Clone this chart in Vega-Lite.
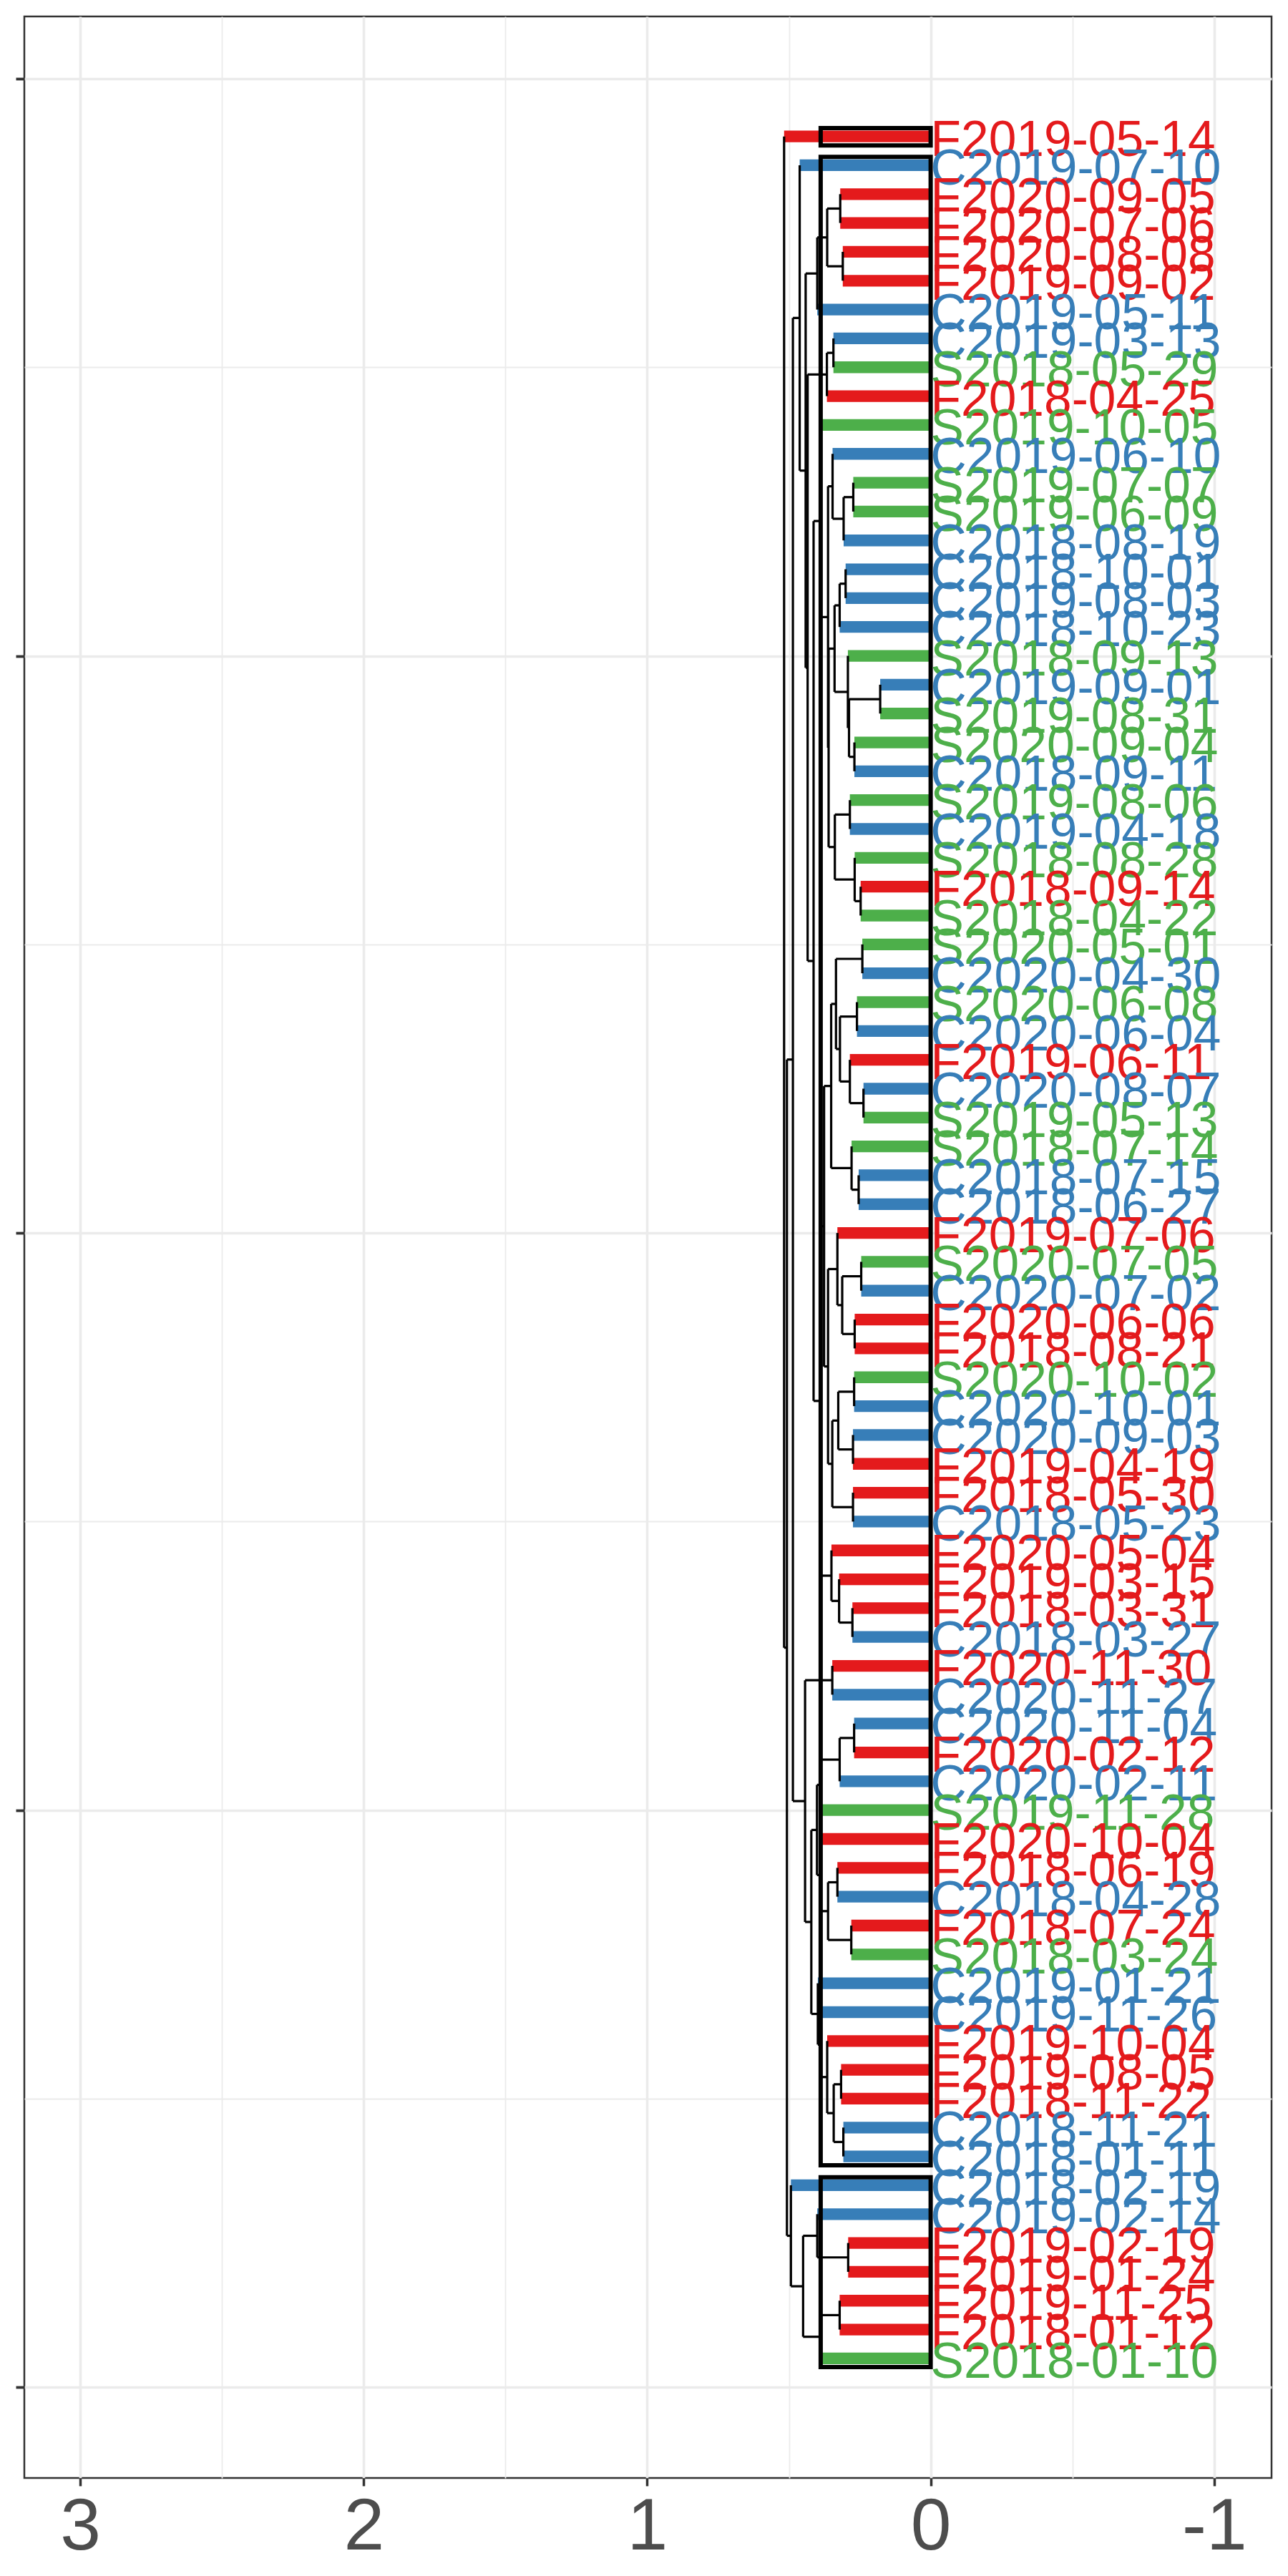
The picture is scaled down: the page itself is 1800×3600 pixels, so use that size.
{
  "$schema": "https://vega.github.io/schema/vega-lite/v6.json",
  "width": 1743,
  "height": 3440,
  "autosize": {"type": "none"},
  "padding": {"left": 34, "top": 23, "right": 23, "bottom": 137},
  "background": "white",
  "config": {"view": {"stroke": "#333333", "strokeWidth": 2.5}, "font": "Liberation Sans"},
  "datasets": {
    "leaves": [
      {"v":78,"label":"F2019-05-14","g":"F","h0":0,"h":0.517},
      {"v":77,"label":"C2019-07-10","g":"C","h0":0,"h":0.462},
      {"v":76,"label":"F2020-09-05","g":"F","h0":0,"h":0.319},
      {"v":75,"label":"F2020-07-06","g":"F","h0":0,"h":0.319},
      {"v":74,"label":"F2020-08-08","g":"F","h0":0,"h":0.310},
      {"v":73,"label":"F2019-09-02","g":"F","h0":0,"h":0.310},
      {"v":72,"label":"C2019-05-11","g":"C","h0":0,"h":0.400},
      {"v":71,"label":"C2019-03-13","g":"C","h0":0,"h":0.343},
      {"v":70,"label":"S2018-05-29","g":"S","h0":0,"h":0.343},
      {"v":69,"label":"F2018-04-25","g":"F","h0":0,"h":0.366},
      {"v":68,"label":"S2019-10-05","g":"S","h0":0,"h":0.390},
      {"v":67,"label":"C2019-06-10","g":"C","h0":0,"h":0.346},
      {"v":66,"label":"S2019-07-07","g":"S","h0":0,"h":0.273},
      {"v":65,"label":"S2019-06-09","g":"S","h0":0,"h":0.273},
      {"v":64,"label":"C2018-08-19","g":"C","h0":0,"h":0.307},
      {"v":63,"label":"C2018-10-01","g":"C","h0":0,"h":0.300},
      {"v":62,"label":"C2019-08-03","g":"C","h0":0,"h":0.300},
      {"v":61,"label":"C2018-10-23","g":"C","h0":0,"h":0.321},
      {"v":60,"label":"S2018-09-13","g":"S","h0":0,"h":0.292},
      {"v":59,"label":"C2019-09-01","g":"C","h0":0,"h":0.178},
      {"v":58,"label":"S2019-08-31","g":"S","h0":0,"h":0.178},
      {"v":57,"label":"S2020-09-04","g":"S","h0":0,"h":0.269},
      {"v":56,"label":"C2018-09-11","g":"C","h0":0,"h":0.269},
      {"v":55,"label":"S2019-08-06","g":"S","h0":0,"h":0.285},
      {"v":54,"label":"C2019-04-18","g":"C","h0":0,"h":0.285},
      {"v":53,"label":"S2018-08-28","g":"S","h0":0,"h":0.268},
      {"v":52,"label":"F2018-09-14","g":"F","h0":0,"h":0.247},
      {"v":51,"label":"S2018-04-22","g":"S","h0":0,"h":0.247},
      {"v":50,"label":"S2020-05-01","g":"S","h0":0,"h":0.241},
      {"v":49,"label":"C2020-04-30","g":"C","h0":0,"h":0.241},
      {"v":48,"label":"S2020-06-08","g":"S","h0":0,"h":0.260},
      {"v":47,"label":"C2020-06-04","g":"C","h0":0,"h":0.260},
      {"v":46,"label":"F2019-06-11","g":"F","h0":0,"h":0.285},
      {"v":45,"label":"C2020-08-07","g":"C","h0":0,"h":0.237},
      {"v":44,"label":"S2019-05-13","g":"S","h0":0,"h":0.237},
      {"v":43,"label":"S2018-07-14","g":"S","h0":0,"h":0.279},
      {"v":42,"label":"C2018-07-15","g":"C","h0":0,"h":0.254},
      {"v":41,"label":"C2018-06-27","g":"C","h0":0,"h":0.254},
      {"v":40,"label":"F2019-07-06","g":"F","h0":0,"h":0.329},
      {"v":39,"label":"S2020-07-05","g":"S","h0":0,"h":0.245},
      {"v":38,"label":"C2020-07-02","g":"C","h0":0,"h":0.245},
      {"v":37,"label":"F2020-06-06","g":"F","h0":0,"h":0.268},
      {"v":36,"label":"F2018-08-21","g":"F","h0":0,"h":0.268},
      {"v":35,"label":"S2020-10-02","g":"S","h0":0,"h":0.270},
      {"v":34,"label":"C2020-10-01","g":"C","h0":0,"h":0.270},
      {"v":33,"label":"C2020-09-03","g":"C","h0":0,"h":0.274},
      {"v":32,"label":"F2019-04-19","g":"F","h0":0,"h":0.274},
      {"v":31,"label":"F2018-05-30","g":"F","h0":0,"h":0.274},
      {"v":30,"label":"C2018-05-23","g":"C","h0":0,"h":0.274},
      {"v":29,"label":"F2020-05-04","g":"F","h0":0,"h":0.350},
      {"v":28,"label":"F2019-03-15","g":"F","h0":0,"h":0.323},
      {"v":27,"label":"F2018-03-31","g":"F","h0":0,"h":0.276},
      {"v":26,"label":"C2018-03-27","g":"C","h0":0,"h":0.276},
      {"v":25,"label":"F2020-11-30","g":"F","h0":0,"h":0.347},
      {"v":24,"label":"C2020-11-27","g":"C","h0":0,"h":0.347},
      {"v":23,"label":"C2020-11-04","g":"C","h0":0,"h":0.270},
      {"v":22,"label":"F2020-02-12","g":"F","h0":0,"h":0.270},
      {"v":21,"label":"C2020-02-11","g":"C","h0":0,"h":0.321},
      {"v":20,"label":"S2019-11-28","g":"S","h0":0,"h":0.389},
      {"v":19,"label":"F2020-10-04","g":"F","h0":0,"h":0.390},
      {"v":18,"label":"F2018-06-19","g":"F","h0":0,"h":0.329},
      {"v":17,"label":"C2018-04-28","g":"C","h0":0,"h":0.329},
      {"v":16,"label":"F2018-07-24","g":"F","h0":0,"h":0.280},
      {"v":15,"label":"S2018-03-24","g":"S","h0":0,"h":0.280},
      {"v":14,"label":"C2019-01-21","g":"C","h0":0,"h":0.398},
      {"v":13,"label":"C2019-11-26","g":"C","h0":0,"h":0.388},
      {"v":12,"label":"F2019-10-04","g":"F","h0":0,"h":0.365},
      {"v":11,"label":"F2019-08-05","g":"F","h0":0,"h":0.316},
      {"v":10,"label":"F2018-11-22","g":"F","h0":0,"h":0.316},
      {"v":9,"label":"C2018-11-21","g":"C","h0":0,"h":0.308},
      {"v":8,"label":"C2018-01-11","g":"C","h0":0,"h":0.308},
      {"v":7,"label":"C2018-02-19","g":"C","h0":0,"h":0.493},
      {"v":6,"label":"C2019-02-14","g":"C","h0":0,"h":0.400},
      {"v":5,"label":"F2019-02-19","g":"F","h0":0,"h":0.291},
      {"v":4,"label":"F2019-01-24","g":"F","h0":0,"h":0.291},
      {"v":3,"label":"F2019-11-25","g":"F","h0":0,"h":0.321},
      {"v":2,"label":"F2018-01-12","g":"F","h0":0,"h":0.321},
      {"v":1,"label":"S2018-01-10","g":"S","h0":0,"h":0.386}
    ],
    "verticals": [
      {"h":0.517,"a":78,"b":25.63},{"h":0.507,"a":46.011,"b":5.25},{"h":0.486,"a":71.709,"b":20.313},
      {"h":0.462,"a":77,"b":66.419},{"h":0.441,"a":73.25,"b":59.588},{"h":0.400,"a":74.5,"b":72},
      {"h":0.365,"a":75.5,"b":73.5},{"h":0.319,"a":76,"b":75},{"h":0.310,"a":74,"b":73},
      {"h":0.434,"a":69.75,"b":49.426},{"h":0.366,"a":70.5,"b":69},{"h":0.343,"a":71,"b":70},
      {"h":0.413,"a":64.672,"b":34.18},{"h":0.390,"a":68,"b":61.344},{"h":0.362,"a":65.875,"b":56.813},
      {"h":0.346,"a":67,"b":64.75},{"h":0.307,"a":65.5,"b":64},{"h":0.273,"a":66,"b":65},
      {"h":0.360,"a":60.25,"b":53.375},{"h":0.339,"a":61.75,"b":58.75},{"h":0.321,"a":62.5,"b":61},
      {"h":0.300,"a":63,"b":62},{"h":0.292,"a":60,"b":57.5},{"h":0.288,"a":58.5,"b":56.5},
      {"h":0.178,"a":59,"b":58},{"h":0.269,"a":57,"b":56},{"h":0.338,"a":54.5,"b":52.25},
      {"h":0.285,"a":55,"b":54},{"h":0.268,"a":53,"b":51.5},{"h":0.247,"a":52,"b":51},
      {"h":0.391,"a":40.234,"b":28.125},{"h":0.376,"a":45.094,"b":35.375},{"h":0.351,"a":47.938,"b":42.25},
      {"h":0.334,"a":49.5,"b":46.375},{"h":0.241,"a":50,"b":49},{"h":0.320,"a":47.5,"b":45.25},
      {"h":0.260,"a":48,"b":47},{"h":0.285,"a":46,"b":44.5},{"h":0.237,"a":45,"b":44},
      {"h":0.279,"a":43,"b":41.5},{"h":0.254,"a":42,"b":41},{"h":0.362,"a":38.75,"b":32},
      {"h":0.329,"a":40,"b":37.5},{"h":0.312,"a":38.5,"b":36.5},{"h":0.245,"a":39,"b":38},
      {"h":0.268,"a":37,"b":36},{"h":0.347,"a":33.5,"b":30.5},{"h":0.326,"a":34.5,"b":32.5},
      {"h":0.270,"a":35,"b":34},{"h":0.274,"a":33,"b":32},{"h":0.274,"a":31,"b":30},
      {"h":0.350,"a":29,"b":27.25},{"h":0.323,"a":28,"b":26.5},{"h":0.276,"a":27,"b":26},
      {"h":0.443,"a":24.5,"b":16.125},{"h":0.347,"a":25,"b":24},{"h":0.421,"a":19.313,"b":12.938},
      {"h":0.401,"a":20.875,"b":17.75},{"h":0.389,"a":21.75,"b":20},{"h":0.321,"a":22.5,"b":21},
      {"h":0.270,"a":23,"b":22},{"h":0.390,"a":19,"b":16.5},{"h":0.362,"a":17.5,"b":15.5},
      {"h":0.329,"a":18,"b":17},{"h":0.280,"a":16,"b":15},{"h":0.398,"a":14,"b":11.875},
      {"h":0.388,"a":13,"b":10.75},{"h":0.365,"a":12,"b":9.5},{"h":0.342,"a":10.5,"b":8.5},
      {"h":0.316,"a":11,"b":10},{"h":0.308,"a":9,"b":8},{"h":0.493,"a":7,"b":3.5},
      {"h":0.450,"a":5.25,"b":1.75},{"h":0.400,"a":6,"b":4.5},{"h":0.291,"a":5,"b":4},
      {"h":0.386,"a":2.5,"b":1},{"h":0.321,"a":3,"b":2}
    ],
    "horizontals": [
      {"p":25.63,"h1":0.507,"h2":0.517},{"p":46.011,"h1":0.486,"h2":0.507},{"p":5.25,"h1":0.493,"h2":0.507},
      {"p":71.709,"h1":0.462,"h2":0.486},{"p":20.313,"h1":0.443,"h2":0.486},{"p":66.419,"h1":0.441,"h2":0.462},
      {"p":73.25,"h1":0.400,"h2":0.441},{"p":59.588,"h1":0.434,"h2":0.441},{"p":74.5,"h1":0.365,"h2":0.400},
      {"p":75.5,"h1":0.319,"h2":0.365},{"p":73.5,"h1":0.310,"h2":0.365},{"p":69.75,"h1":0.366,"h2":0.434},
      {"p":49.426,"h1":0.413,"h2":0.434},{"p":70.5,"h1":0.343,"h2":0.366},{"p":64.672,"h1":0.390,"h2":0.413},
      {"p":34.18,"h1":0.391,"h2":0.413},{"p":61.344,"h1":0.362,"h2":0.390},{"p":65.875,"h1":0.346,"h2":0.362},
      {"p":56.813,"h1":0.360,"h2":0.362},{"p":64.75,"h1":0.307,"h2":0.346},{"p":65.5,"h1":0.273,"h2":0.307},
      {"p":60.25,"h1":0.339,"h2":0.360},{"p":53.375,"h1":0.338,"h2":0.360},{"p":61.75,"h1":0.321,"h2":0.339},
      {"p":58.75,"h1":0.292,"h2":0.339},{"p":62.5,"h1":0.300,"h2":0.321},{"p":57.5,"h1":0.288,"h2":0.292},
      {"p":58.5,"h1":0.178,"h2":0.288},{"p":56.5,"h1":0.269,"h2":0.288},{"p":54.5,"h1":0.285,"h2":0.338},
      {"p":52.25,"h1":0.268,"h2":0.338},{"p":51.5,"h1":0.247,"h2":0.268},{"p":40.234,"h1":0.376,"h2":0.391},
      {"p":28.125,"h1":0.350,"h2":0.391},{"p":45.094,"h1":0.351,"h2":0.376},{"p":35.375,"h1":0.362,"h2":0.376},
      {"p":47.938,"h1":0.334,"h2":0.351},{"p":42.25,"h1":0.279,"h2":0.351},{"p":49.5,"h1":0.241,"h2":0.334},
      {"p":46.375,"h1":0.320,"h2":0.334},{"p":47.5,"h1":0.260,"h2":0.320},{"p":45.25,"h1":0.285,"h2":0.320},
      {"p":44.5,"h1":0.237,"h2":0.285},{"p":41.5,"h1":0.254,"h2":0.279},{"p":38.75,"h1":0.329,"h2":0.362},
      {"p":32,"h1":0.347,"h2":0.362},{"p":37.5,"h1":0.312,"h2":0.329},{"p":38.5,"h1":0.245,"h2":0.312},
      {"p":36.5,"h1":0.268,"h2":0.312},{"p":33.5,"h1":0.326,"h2":0.347},{"p":30.5,"h1":0.274,"h2":0.347},
      {"p":34.5,"h1":0.270,"h2":0.326},{"p":32.5,"h1":0.274,"h2":0.326},{"p":27.25,"h1":0.323,"h2":0.350},
      {"p":26.5,"h1":0.276,"h2":0.323},{"p":24.5,"h1":0.347,"h2":0.443},{"p":16.125,"h1":0.421,"h2":0.443},
      {"p":19.313,"h1":0.401,"h2":0.421},{"p":12.938,"h1":0.398,"h2":0.421},{"p":20.875,"h1":0.389,"h2":0.401},
      {"p":17.75,"h1":0.390,"h2":0.401},{"p":21.75,"h1":0.321,"h2":0.389},{"p":22.5,"h1":0.270,"h2":0.321},
      {"p":16.5,"h1":0.362,"h2":0.390},{"p":17.5,"h1":0.329,"h2":0.362},{"p":15.5,"h1":0.280,"h2":0.362},
      {"p":11.875,"h1":0.388,"h2":0.398},{"p":10.75,"h1":0.365,"h2":0.388},{"p":9.5,"h1":0.342,"h2":0.365},
      {"p":10.5,"h1":0.316,"h2":0.342},{"p":8.5,"h1":0.308,"h2":0.342},{"p":3.5,"h1":0.450,"h2":0.493},
      {"p":5.25,"h1":0.400,"h2":0.450},{"p":1.75,"h1":0.386,"h2":0.450},{"p":4.5,"h1":0.291,"h2":0.400},
      {"p":2.5,"h1":0.321,"h2":0.386}
    ],
    "boxes": [
      {"lo":77.69,"hi":78.29,"h0":0,"h1":0.388},
      {"lo":7.69,"hi":77.29,"h0":0,"h1":0.388},
      {"lo":0.70,"hi":7.28,"h0":0,"h1":0.388}
    ]
  },
  "layer": [
    {
      "data": {"name": "leaves"},
      "mark": {"type": "rule", "strokeWidth": 16.3},
      "encoding": {
        "x": {"field": "h0", "type": "quantitative",
          "scale": {"domain": [-1.2025, 3.1972], "reverse": true, "nice": false, "zero": false},
          "axis": {"orient": "bottom", "title": null, "values": [-1,-0.5,0,0.5,1,1.5,2,2.5,3],
            "grid": true, "gridColor": "#EBEBEB",
            "gridWidth": {"condition": {"test": "datum.value % 1 !== 0", "value": 1.8}, "value": 3.6},
            "domain": false, "tickColor": "#333333", "tickWidth": 3.5, "tickSize": 11,
            "tickOpacity": {"condition": {"test": "datum.value % 1 !== 0", "value": 0}, "value": 1},
            "labelExpr": "datum.value % 1 === 0 ? datum.value + '' : ''",
            "labelFont": "Liberation Sans", "labelFontSize": 102, "labelColor": "#4D4D4D",
            "labelBaseline": "alphabetic", "labelPadding": 88, "labelFlush": false, "labelOverlap": false}},
        "x2": {"field": "h", "title": null},
        "y": {"field": "v", "type": "quantitative",
          "scale": {"domain": [-3.143, 82.157], "nice": false, "zero": false},
          "axis": {"orient": "left", "title": null, "values": [0,10,20,30,40,50,60,70,80],
            "grid": true, "gridColor": "#EBEBEB",
            "gridWidth": {"condition": {"test": "datum.value % 20 !== 0", "value": 1.8}, "value": 3.6},
            "domain": false, "labels": false, "tickColor": "#333333", "tickWidth": 3.8, "tickSize": 12,
            "tickOpacity": {"condition": {"test": "datum.value % 20 !== 0", "value": 0}, "value": 1}}},
        "color": {"field": "g", "type": "nominal",
          "scale": {"domain": ["F","C","S"], "range": ["#E41A1C","#377EB8","#4DAF4A"]}, "legend": null}
      }
    },
    {
      "data": {"name": "verticals"},
      "mark": {"type": "rule", "strokeWidth": 3.2, "color": "black"},
      "encoding": {
        "x": {"field": "h", "type": "quantitative", "title": null},
        "y": {"field": "a", "type": "quantitative", "title": null},
        "y2": {"field": "b", "title": null}
      }
    },
    {
      "data": {"name": "horizontals"},
      "mark": {"type": "rule", "strokeWidth": 3.2, "color": "black"},
      "encoding": {
        "x": {"field": "h1", "type": "quantitative", "title": null},
        "x2": {"field": "h2", "title": null},
        "y": {"field": "p", "type": "quantitative", "title": null}
      }
    },
    {
      "data": {"name": "boxes"},
      "mark": {"type": "rect", "filled": false, "stroke": "black", "strokeWidth": 6},
      "encoding": {
        "x": {"field": "h0", "type": "quantitative", "title": null},
        "x2": {"field": "h1", "title": null},
        "y": {"field": "lo", "type": "quantitative", "title": null},
        "y2": {"field": "hi", "title": null}
      }
    },
    {
      "data": {"name": "leaves"},
      "mark": {"type": "text", "align": "left", "baseline": "alphabetic", "dx": 0, "dy": 27,
        "font": "Liberation Sans", "fontSize": 69.5},
      "encoding": {
        "x": {"field": "h0", "type": "quantitative", "title": null},
        "y": {"field": "v", "type": "quantitative", "title": null},
        "text": {"field": "label"},
        "color": {"field": "g", "type": "nominal", "legend": null}
      }
    }
  ]
}
